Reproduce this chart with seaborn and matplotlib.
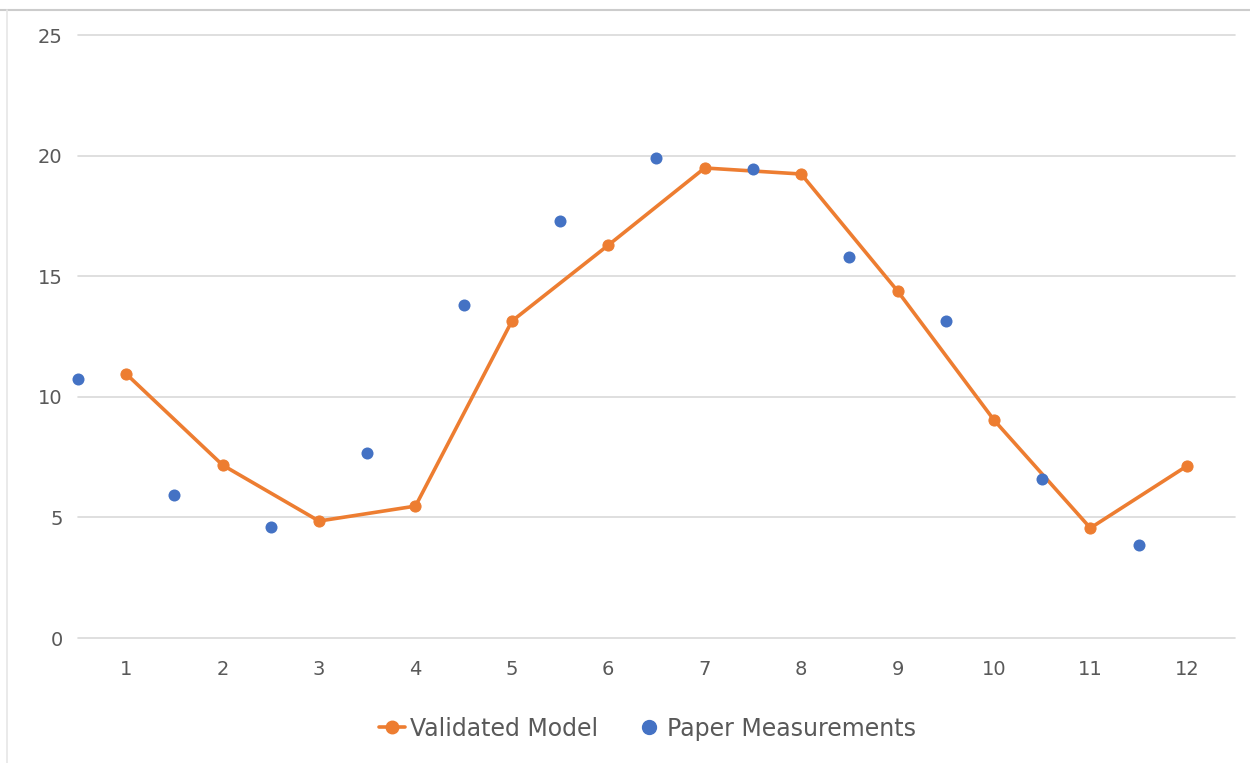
import matplotlib
matplotlib.use("Agg")
import matplotlib.pyplot as plt
import seaborn as sns
import pandas as pd
from matplotlib.lines import Line2D

# Data
model_x = [1, 2, 3, 4, 5, 6, 7, 8, 9, 10, 11, 12]
model_y = [10.95, 7.17, 4.85, 5.47, 13.14, 16.29, 19.49, 19.24, 14.39, 9.04, 4.56, 7.13]
meas_x = [0.5, 1.5, 2.5, 3.5, 4.5, 5.5, 6.5, 7.5, 8.5, 9.5, 10.5, 11.5]
meas_y = [10.74, 5.93, 4.60, 7.67, 13.81, 17.29, 19.90, 19.44, 15.80, 13.14, 6.59, 3.86]
x_ticks = [1, 2, 3, 4, 5, 6, 7, 8, 9, 10, 11, 12]
y_ticks = [0, 5, 10, 15, 20, 25]

ORANGE = "#ED7D31"
BLUE = "#4472C4"
TXT = "#595959"
GRID = "#D9D9D9"

sns.set_theme(style="white")
plt.rcParams["font.family"] = ["DejaVu Sans"]

fig = plt.figure(figsize=(12.5, 7.63), dpi=100)
ax = fig.add_axes([0.0624, 0.1638, 0.9256, 0.7902])

df_model = pd.DataFrame({"x": model_x, "y": model_y})
df_meas = pd.DataFrame({"x": meas_x, "y": meas_y})

sns.lineplot(data=df_model, x="x", y="y", ax=ax, color=ORANGE, linewidth=2.6,
             marker="o", markersize=8, markeredgecolor=ORANGE, zorder=3)
sns.scatterplot(data=df_meas, x="x", y="y", ax=ax, color=BLUE, s=75,
                edgecolor=BLUE, linewidth=0, zorder=4, clip_on=False)

ax.set_xlim(0.5, 12.5)
ax.set_ylim(0, 25)
ax.set_xticks(x_ticks)
ax.set_xticklabels([str(t) for t in x_ticks])
ax.set_yticks(y_ticks)
ax.set_yticklabels([str(t) for t in y_ticks])
ax.set_xlabel("")
ax.set_ylabel("")
ax.yaxis.grid(True, color=GRID, linewidth=1.2)
for gl in ax.get_ygridlines():
    gl.set_clip_on(False)
ax.xaxis.grid(False)
ax.set_axisbelow(True)
for s in ax.spines.values():
    s.set_visible(False)
ax.tick_params(axis="both", length=0, labelsize=14, labelcolor=TXT)
ax.tick_params(axis="y", pad=11)
ax.tick_params(axis="x", pad=16)

handles = [
    Line2D([0], [0], color=ORANGE, linewidth=2.6, marker="o", markersize=9),
    Line2D([0], [0], color=BLUE, linestyle="none", marker="o", markersize=10),
]
fig.legend(handles, ["Validated Model", "Paper Measurements"], loc="center",
           bbox_to_anchor=(0.518, 0.045), ncol=2, frameon=False, fontsize=17,
           labelcolor=TXT, handlelength=1.1, handletextpad=0.2, columnspacing=1.6)

# chart frame lines (top and left edges)
fig.add_artist(Line2D([0.0, 1.0], [0.987, 0.987], color="#CCCCCC", linewidth=1.5, transform=fig.transFigure))
fig.add_artist(Line2D([0.0056, 0.0056], [0.0, 0.987], color="#E6E6E6", linewidth=1.2, transform=fig.transFigure))

fig.savefig("out.png", dpi=100)
